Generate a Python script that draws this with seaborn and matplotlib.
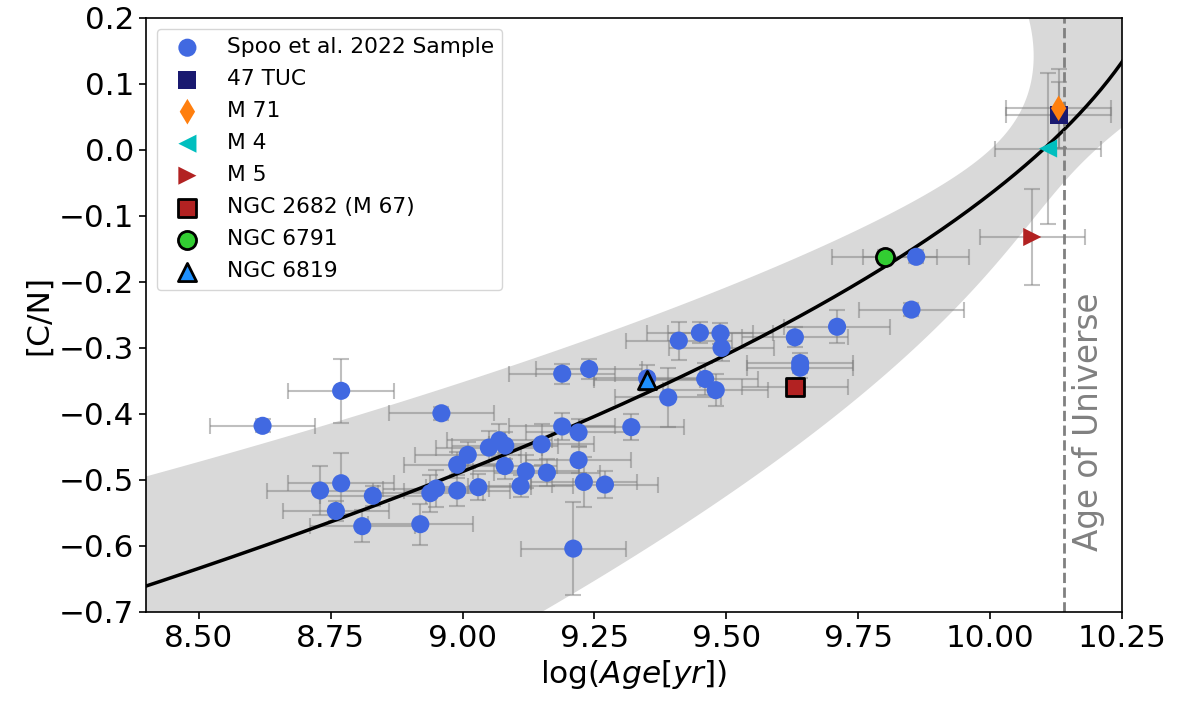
import numpy as np
import matplotlib
matplotlib.use("Agg")
import matplotlib.pyplot as plt
import seaborn as sns

# ---- Field red-giant sample: log(age) and [C/N] with 1-sigma errors ----
sample_log_age = [8.621, 8.730, 8.760, 8.770, 8.770, 8.810, 8.830, 8.920, 8.939, 8.950,
                  8.960, 8.990, 8.990, 9.010, 9.030, 9.050, 9.070, 9.081, 9.080, 9.110,
                  9.120, 9.150, 9.160, 9.189, 9.220, 9.220, 9.230, 9.270, 9.210, 9.189,
                  9.240, 9.320, 9.350, 9.390, 9.410, 9.450, 9.489, 9.491, 9.460, 9.480,
                  9.630, 9.710, 9.640, 9.640, 9.860, 9.851]
sample_cn = [-0.418, -0.516, -0.547, -0.365, -0.505, -0.570, -0.524, -0.567, -0.520, -0.513,
             -0.399, -0.516, -0.477, -0.462, -0.511, -0.451, -0.440, -0.448, -0.479, -0.509,
             -0.487, -0.446, -0.489, -0.419, -0.428, -0.470, -0.503, -0.507, -0.604, -0.339,
             -0.332, -0.420, -0.346, -0.375, -0.289, -0.277, -0.278, -0.300, -0.347, -0.364,
             -0.284, -0.268, -0.323, -0.330, -0.162, -0.242]
sample_log_age_err = [0.10] * 46
sample_cn_err = [0.010, 0.037, 0.015, 0.048, 0.046, 0.024, 0.015, 0.031, 0.028, 0.028,
                 0.010, 0.024, 0.020, 0.020, 0.020, 0.025, 0.025, 0.020, 0.020, 0.017,
                 0.025, 0.031, 0.020, 0.020, 0.020, 0.020, 0.038, 0.020, 0.070, 0.015,
                 0.015, 0.020, 0.020, 0.045, 0.029, 0.016, 0.016, 0.020, 0.024, 0.024,
                 0.015, 0.025, 0.015, 0.015, 0.010, 0.010]

# ---- Star clusters ----
cluster_names = ["47 TUC", "M 71", "M 4", "M 5", "NGC 2682 (M 67)", "NGC 6791", "NGC 6819"]
cluster_log_age = [10.13, 10.13, 10.11, 10.08, 9.63, 9.80, 9.35]
cluster_cn = [0.053, 0.063, 0.002, -0.132, -0.359, -0.162, -0.349]
cluster_log_age_err = [0.10, 0.10, 0.10, 0.10, 0.10, 0.10, 0.10]
cluster_cn_err = [0.050, 0.060, 0.115, 0.073, 0.010, 0.010, 0.010]

# ---- Age relation: log(Age) = c0 + c1*[C/N] + c2*[C/N]^2, with coefficient errors ----
relation_coeffs = [10.10, 1.37, -1.82]
relation_coeff_errs = [0.10, 1.00, 1.14]
log_age_universe = 10.14

# ---- Styling ----
sns.set_theme(style="ticks", rc={
    "axes.edgecolor": "black",
    "axes.linewidth": 1.2,
    "xtick.color": "black",
    "ytick.color": "black",
    "axes.labelcolor": "black",
    "text.color": "black",
    "xtick.major.size": 5,
    "ytick.major.size": 5,
    "xtick.major.width": 1.2,
    "ytick.major.width": 1.2,
})
plt.rcParams["font.family"] = ["DejaVu Sans"]

cluster_style = {
    "47 TUC": dict(marker="s", color="#191970", edgecolor="none", linewidth=0),
    "M 71": dict(marker="d", color="#ff7f0e", edgecolor="none", linewidth=0),
    "M 4": dict(marker="<", color="#00bfbf", edgecolor="none", linewidth=0),
    "M 5": dict(marker=">", color="#b22222", edgecolor="none", linewidth=0),
    "NGC 2682 (M 67)": dict(marker="s", color="#b22222", edgecolor="black", linewidth=2),
    "NGC 6791": dict(marker="o", color="#32cd32", edgecolor="black", linewidth=2),
    "NGC 6819": dict(marker="^", color="#1e90ff", edgecolor="black", linewidth=2),
}

fig = plt.figure(figsize=(11.81, 7.04), dpi=100)
ax = fig.add_axes([0.1236, 0.1307, 0.8264, 0.844])

# Relation and its uncertainty band (age as a function of [C/N])
cn_grid = np.linspace(-0.8, 0.3, 600)
c0, c1, c2 = relation_coeffs
e0, e1, e2 = relation_coeff_errs
age_fit = c0 + c1 * cn_grid + c2 * cn_grid ** 2
age_sig = np.sqrt(e0 ** 2 + (e1 * cn_grid) ** 2 + (e2 * cn_grid ** 2) ** 2)
ax.fill_betweenx(cn_grid, age_fit - age_sig, age_fit + age_sig,
                 color="#d9d9d9", linewidth=0, zorder=0)

# Error bars
ax.errorbar(sample_log_age, sample_cn, xerr=sample_log_age_err, yerr=sample_cn_err,
            fmt="none", ecolor="gray", alpha=0.5, capsize=6, elinewidth=1.5,
            capthick=1.5, zorder=1)
ax.errorbar(cluster_log_age, cluster_cn, xerr=cluster_log_age_err, yerr=cluster_cn_err,
            fmt="none", ecolor="gray", alpha=0.5, capsize=6, elinewidth=1.5,
            capthick=1.5, zorder=1)

# Fitted relation
sns.lineplot(x=age_fit, y=cn_grid, sort=False, estimator=None, color="black",
             linewidth=2.5, ax=ax, zorder=2)

# Age of the Universe
ax.axvline(log_age_universe, color="gray", linestyle="--", linewidth=2, zorder=2)
ax.text(log_age_universe + 0.015, -0.607, "Age of Universe", rotation=90,
        color="gray", fontsize=23.5, ha="left", va="bottom")

# Points
sns.scatterplot(x=sample_log_age, y=sample_cn, color="royalblue", s=170,
                edgecolor="none", linewidth=0, label="Spoo et al. 2022 Sample",
                ax=ax, zorder=3)
for name, age, cn in zip(cluster_names, cluster_log_age, cluster_cn):
    st = cluster_style[name]
    sns.scatterplot(x=[age], y=[cn], s=170, label=name, ax=ax, zorder=4, **st)

ax.set_xlim(8.4, 10.25)
ax.set_ylim(-0.7, 0.2)
ax.set_xticks([8.5, 8.75, 9.0, 9.25, 9.5, 9.75, 10.0, 10.25])
ax.set_yticks(np.round(np.arange(-0.7, 0.21, 0.1), 1))
ax.tick_params(labelsize=22.3)
ax.set_xlabel(r"log($Age[yr]$)", fontsize=22.5)
ax.set_ylabel("[C/N]", fontsize=22.5)

ax.legend(loc="upper left", fontsize=15.7, labelspacing=0.55, frameon=True,
          fancybox=True, framealpha=0.8, edgecolor="0.8")

fig.savefig("out.png", dpi=100)
